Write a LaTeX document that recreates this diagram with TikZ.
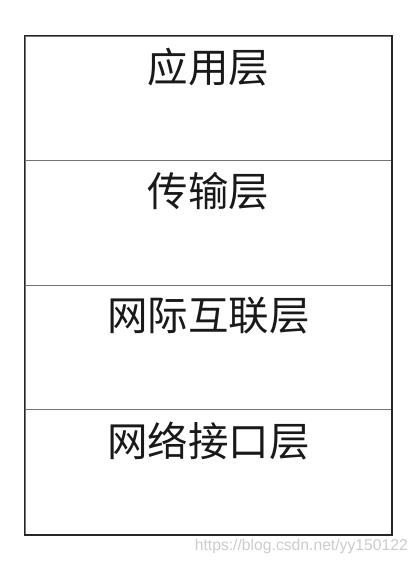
\documentclass[tikz,border=0pt]{standalone}
\usepackage{fontspec}
\newfontfamily\cjk{Noto Sans CJK SC}
\newfontfamily\wmfont{Liberation Sans}
\begin{document}
\begin{tikzpicture}[x=1pt,y=-1pt,
  layerbox/.style={draw=black!55,line width=1.3pt,minimum width=366.5pt,minimum height=124.5pt,inner sep=0pt,anchor=north west},
  layertext/.style={font=\cjk\fontsize{40.5}{42}\selectfont,text=black!90,inner sep=0pt,anchor=center},
  outer/.style={draw=black!85,line width=1.8pt},
  wmark/.style={font=\wmfont\fontsize{15.7}{17}\selectfont,text=black!20,inner sep=0pt,anchor=east}]
\useasboundingbox[fill=white] (0,0) rectangle (418,564);
\node[layerbox] (l1) at (24.5,35.5) {};
\node[layerbox] (l2) at (24.5,160) {};
\node[layerbox] (l3) at (24.5,284.5) {};
\node[layerbox] (l4) at (24.5,409) {};
\draw[outer] (l1.north west) rectangle (l4.south east);
\node[layertext] (t1) at ([yshift=-31.5pt]l1.north) {应用层};
\node[layertext] (t2) at ([yshift=-31pt]l2.north) {传输层};
\node[layertext] (t3) at ([yshift=-31.5pt]l3.north) {网际互联层};
\node[layertext] (t4) at ([yshift=-32pt]l4.north) {网络接口层};
\node[wmark] (wm) at (408,546) {https://blog.csdn.net/yy150122};
\end{tikzpicture}
\end{document}
